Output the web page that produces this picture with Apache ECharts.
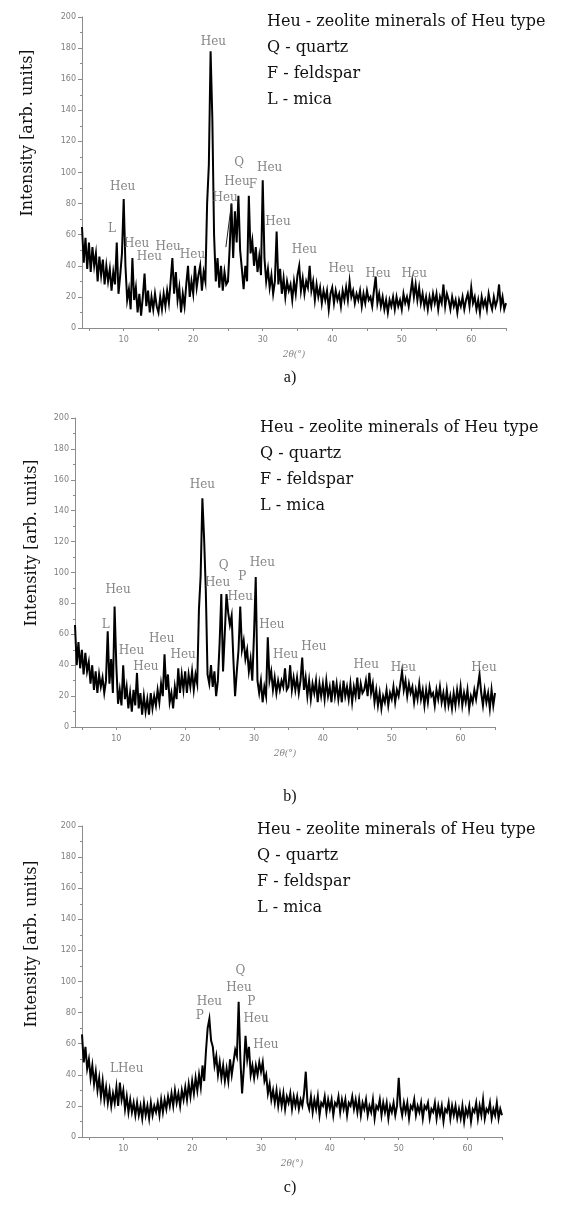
<!DOCTYPE html>
<html>
<head>
<meta charset="utf-8">
<title>XRD patterns a) b) c)</title>
<script src="https://cdn.jsdelivr.net/npm/echarts@6/dist/echarts.min.js"></script>
<style>
  html, body { margin: 0; padding: 0; background: #fff; }
  #chart { width: 565px; height: 1209px; }
</style>
</head>
<body>
<div id="chart"></div>
<script>
// 2theta sampling of the traces (deg)
const angleStart = 4
const angleStep = 0.25

const xTickLabels = [10, 20, 30, 40, 50, 60]
const xTicks = [5, 10, 15, 20, 25, 30, 35, 40, 45, 50, 55, 60, 65]
const legendLines = ['Heu - zeolite minerals of Heu type', 'Q - quartz', 'F - feldspar', 'L - mica']

// intensity, one value every 0.25 deg from 4 to 65
const intensityA = [
  65, 42, 58, 38, 55, 36, 52, 40, 48, 30, 46, 34, 44, 28, 40, 30, 38, 24, 36, 28, // 4 - 8.75
  55, 22, 34, 48, 83, 40, 18, 25, 12, 45, 18, 26, 10, 22, 8, 20, 35, 14, 24, 10, // 9 - 13.75
  20, 12, 22, 14, 10, 20, 12, 22, 14, 24, 16, 30, 45, 22, 36, 18, 26, 10, 22, 14, // 14 - 18.75
  28, 40, 20, 30, 22, 40, 26, 34, 40, 24, 36, 30, 80, 105, 178, 135, 60, 30, 45, 26, // 19 - 23.75
  40, 24, 36, 28, 30, 52, 80, 45, 75, 55, 85, 50, 38, 25, 40, 30, 85, 48, 56, 40, // 24 - 28.75
  52, 36, 46, 34, 95, 45, 30, 38, 26, 34, 22, 30, 62, 28, 38, 22, 32, 20, 30, 24, // 29 - 33.75
  28, 18, 30, 22, 34, 40, 24, 32, 22, 30, 26, 40, 24, 30, 18, 28, 20, 26, 16, 24, // 34 - 38.75
  18, 24, 12, 22, 26, 16, 24, 18, 22, 14, 24, 18, 26, 18, 30, 20, 24, 16, 22, 18, // 39 - 43.75
  24, 14, 22, 16, 24, 18, 20, 14, 24, 33, 16, 22, 14, 20, 12, 18, 10, 18, 14, 20, // 44 - 48.75
  12, 20, 14, 18, 12, 22, 16, 20, 14, 22, 30, 20, 28, 18, 26, 16, 22, 14, 20, 12, // 49 - 53.75
  20, 14, 22, 16, 22, 12, 20, 16, 28, 14, 22, 18, 12, 20, 14, 18, 10, 18, 14, 20, // 54 - 58.75
  12, 18, 22, 14, 26, 16, 20, 12, 18, 10, 20, 14, 18, 12, 22, 16, 12, 20, 14, 18, // 59 - 63.75
  28, 14, 20, 12, 16
]
const intensityB = [
  66, 40, 55, 38, 50, 34, 48, 36, 42, 28, 40, 24, 36, 22, 34, 26, 32, 22, 30, 62,
  28, 44, 22, 78, 40, 15, 24, 14, 40, 18, 26, 12, 22, 10, 24, 14, 35, 12, 22, 8,
  20, 10, 18, 8, 22, 12, 20, 14, 24, 16, 28, 20, 47, 24, 34, 16, 22, 12, 26, 18,
  38, 22, 34, 24, 36, 22, 34, 26, 36, 24, 34, 28, 76, 98, 148, 122, 88, 34, 28, 40,
  26, 36, 20, 30, 54, 86, 36, 60, 86, 74, 66, 72, 44, 20, 36, 50, 78, 50, 56, 44,
  50, 36, 44, 30, 60, 97, 30, 22, 30, 16, 26, 20, 58, 30, 36, 24, 32, 22, 30, 24,
  30, 26, 38, 24, 26, 40, 24, 32, 24, 32, 22, 30, 45, 24, 32, 20, 30, 18, 28, 22,
  30, 16, 28, 20, 28, 18, 30, 20, 26, 16, 30, 20, 28, 18, 26, 16, 30, 20, 26, 18,
  28, 16, 26, 20, 32, 18, 28, 22, 24, 30, 20, 35, 22, 28, 16, 24, 14, 22, 12, 20,
  16, 24, 14, 22, 18, 26, 16, 24, 20, 28, 36, 24, 30, 20, 28, 22, 26, 16, 24, 18,
  28, 18, 24, 14, 24, 16, 26, 20, 22, 14, 24, 18, 26, 16, 22, 14, 24, 14, 20, 12,
  22, 14, 24, 16, 26, 14, 22, 16, 24, 12, 20, 16, 24, 18, 26, 34, 22, 14, 24, 16,
  22, 12, 24, 14, 22
]
const intensityC = [
  66, 48, 58, 44, 50, 38, 46, 34, 42, 30, 38, 26, 36, 24, 32, 22, 30, 20, 28, 22,
  32, 20, 35, 24, 30, 18, 26, 16, 24, 16, 22, 14, 22, 14, 20, 12, 22, 14, 20, 12,
  22, 14, 20, 16, 22, 14, 24, 16, 24, 18, 26, 20, 28, 20, 30, 22, 28, 20, 30, 24,
  32, 24, 34, 26, 36, 28, 38, 30, 40, 32, 46, 36, 55, 70, 76, 62, 58, 46, 52, 40,
  48, 38, 46, 36, 44, 36, 50, 40, 48, 56, 52, 87, 50, 28, 44, 65, 50, 58, 40, 46,
  38, 46, 40, 48, 42, 48, 36, 40, 28, 34, 24, 30, 22, 30, 20, 28, 20, 28, 18, 26,
  22, 28, 18, 26, 20, 26, 18, 24, 20, 28, 42, 22, 18, 26, 16, 24, 18, 26, 14, 22,
  20, 26, 16, 24, 18, 24, 14, 22, 20, 26, 16, 24, 18, 24, 14, 22, 20, 26, 18, 24,
  16, 24, 14, 22, 18, 24, 14, 20, 16, 24, 12, 20, 18, 24, 14, 22, 16, 22, 12, 20,
  16, 22, 14, 20, 38, 20, 14, 22, 16, 22, 12, 20, 18, 24, 14, 20, 16, 22, 12, 20,
  18, 22, 12, 18, 16, 22, 12, 20, 14, 20, 10, 18, 16, 22, 12, 20, 14, 20, 12, 18,
  12, 20, 10, 18, 14, 20, 10, 18, 16, 22, 12, 20, 14, 24, 12, 18, 16, 22, 12, 18,
  14, 22, 12, 18, 14
]

// peak labels: [text, 2theta, intensity where the label sits]
const peaksA = [
  ['Heu', 22.9, 184], ['L', 8.3, 64], ['Heu', 9.85, 91], ['Heu', 11.85, 54],
  ['Heu', 13.7, 46], ['Heu', 16.4, 52], ['Heu', 19.9, 47], ['Heu', 24.6, 84],
  ['Heu', 26.3, 94], ['Q', 26.6, 106], ['F', 28.6, 92], ['Heu', 31.0, 103],
  ['Heu', 32.2, 68], ['Heu', 36.0, 50], ['Heu', 41.3, 38], ['Heu', 46.6, 35], ['Heu', 51.8, 35]
]
const peaksB = [
  ['Heu', 22.5, 157], ['L', 8.45, 66], ['Heu', 10.25, 89], ['Heu', 12.2, 49],
  ['Heu', 14.3, 39], ['Heu', 16.6, 57], ['Heu', 19.7, 47], ['Heu', 24.7, 93],
  ['Q', 25.6, 104], ['P', 28.3, 97], ['Heu', 28.0, 84], ['Heu', 31.2, 106],
  ['Heu', 32.6, 66], ['Heu', 34.6, 47], ['Heu', 38.7, 52], ['Heu', 46.3, 40],
  ['Heu', 51.7, 38], ['Heu', 63.4, 38]
]
const peaksC = [
  ['LHeu', 10.5, 44], ['P', 21.1, 78], ['Heu', 22.5, 87], ['Q', 27.0, 107],
  ['Heu', 26.8, 96], ['P', 28.6, 87], ['Heu', 29.3, 76], ['Heu', 30.7, 59]
]

const chart = echarts.init(document.getElementById('chart'))

const serif = '"DejaVu Serif", "Liberation Serif", serif'
const axisGray = '#8c8c8c'
const grids = [
  { left: 82, top: 17, width: 424, height: 311 },
  { left: 75, top: 418, width: 420, height: 309 },
  { left: 82, top: 826, width: 420, height: 311 }
]

function toPairs(values) {
  return values.map((v, i) => [angleStart + i * angleStep, v])
}

function makeX(idx) {
  return {
    gridIndex: idx,
    type: 'value',
    min: 4,
    max: 65,
    name: '2θ(°)',
    nameLocation: 'middle',
    nameGap: 22,
    nameTextStyle: { fontFamily: serif, fontSize: 9, color: '#808080', fontStyle: 'italic' },
    axisLine: { onZero: false, lineStyle: { color: axisGray, width: 1 } },
    axisTick: { customValues: xTicks, length: 3, lineStyle: { color: axisGray } },
    axisLabel: { customValues: xTickLabels, fontSize: 8, color: '#808080', margin: 8, fontFamily: 'DejaVu Sans' },
    splitLine: { show: false }
  }
}

function makeY(idx) {
  return {
    gridIndex: idx,
    type: 'value',
    min: 0,
    max: 200,
    interval: 20,
    axisLine: { show: true, lineStyle: { color: axisGray, width: 1 } },
    axisTick: { show: true, length: 4, lineStyle: { color: axisGray } },
    minorTick: { show: true, splitNumber: 2, length: 2, lineStyle: { color: axisGray } },
    axisLabel: { fontSize: 8, color: '#808080', margin: 6, fontFamily: 'DejaVu Sans' },
    splitLine: { show: false }
  }
}

function traceSeries(idx, values) {
  return {
    type: 'line',
    xAxisIndex: idx,
    yAxisIndex: idx,
    data: toPairs(values),
    showSymbol: false,
    symbol: 'none',
    sampling: null,
    animation: false,
    lineStyle: { color: '#000', width: 2, join: 'miter' },
    z: 2
  }
}

function labelSeries(idx, peaks) {
  return {
    type: 'scatter',
    xAxisIndex: idx,
    yAxisIndex: idx,
    data: peaks.map(p => ({ name: p[0], value: [p[1], p[2]] })),
    symbolSize: 1,
    itemStyle: { color: 'rgba(0,0,0,0)' },
    label: {
      show: true,
      position: 'inside',
      formatter: '{b}',
      fontFamily: serif,
      fontSize: 12,
      color: '#666'
    },
    animation: false,
    silent: true,
    z: 3
  }
}

const series = [
  traceSeries(0, intensityA),
  traceSeries(1, intensityB),
  traceSeries(2, intensityC),
  labelSeries(0, peaksA),
  labelSeries(1, peaksB),
  labelSeries(2, peaksC)
]
// leader line from the Heu label down to the 25 deg reflection in a)
series[0].markLine = {
  silent: true,
  symbol: 'none',
  label: { show: false },
  lineStyle: { color: '#222', width: 1, type: 'solid' },
  data: [[{ coord: [25.5, 80] }, { coord: [24.7, 52] }]]
}

const legendText = legendLines.join('\n')
function legendBlock(x, y) {
  return {
    type: 'text',
    x: x,
    y: y,
    style: { text: legendText, font: '16px ' + serif, fill: '#111', lineHeight: 26 }
  }
}
function yName(x, y) {
  return {
    type: 'text',
    x: x,
    y: y,
    rotation: Math.PI / 2,
    style: {
      text: 'Intensity [arb. units]',
      font: '16px ' + serif,
      fill: '#111',
      textAlign: 'center',
      textVerticalAlign: 'middle'
    }
  }
}
function panelTag(text, y) {
  return {
    type: 'text',
    x: 290,
    y: y,
    style: {
      text: text,
      font: '16px "Liberation Serif", serif',
      fill: '#111',
      textAlign: 'center',
      textVerticalAlign: 'middle'
    }
  }
}

chart.setOption({
  backgroundColor: '#fff',
  animation: false,
  grid: grids,
  xAxis: [makeX(0), makeX(1), makeX(2)],
  yAxis: [makeY(0), makeY(1), makeY(2)],
  series: series,
  graphic: [
    legendBlock(267, 9),
    legendBlock(260, 415),
    legendBlock(257, 817),
    yName(28, 133),
    yName(32, 543),
    yName(32, 944),
    panelTag('a)', 378),
    panelTag('b)', 797),
    panelTag('c)', 1188)
  ]
})
</script>
</body>
</html>
